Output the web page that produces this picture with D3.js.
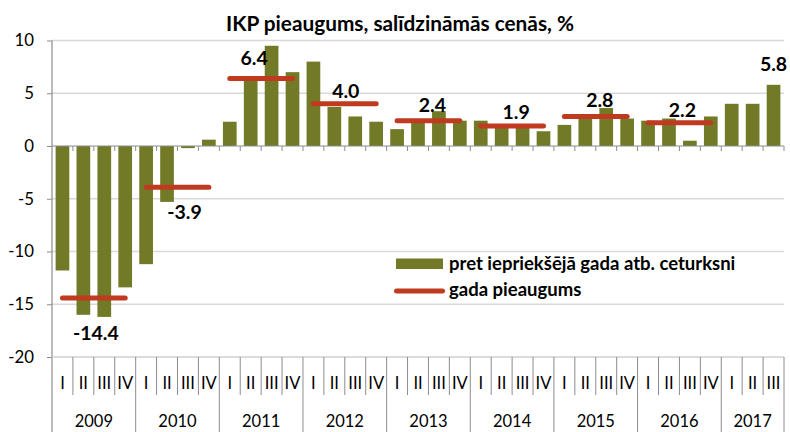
<!DOCTYPE html>
<html>
<head>
<meta charset="utf-8">
<script src="https://cdn.jsdelivr.net/npm/d3@7"></script>
<style>
  html, body { margin: 0; padding: 0; background: #fff; }
  svg { display: block; }
  text { font-family: Lato, "Open Sans", sans-serif; fill: #000; }
</style>
</head>
<body>
<svg id="chart" width="790" height="432"></svg>
<script>
// ---- data ----
const title = "IKP pieaugums, salīdzināmās cenās, %";
const years = [2009, 2010, 2011, 2012, 2013, 2014, 2015, 2016, 2017];
const quarterNames = ["I", "II", "III", "IV"];
const quarterlyGrowth = [
  -11.8, -16.0, -16.2, -13.4,
  -11.2, -5.3, -0.2, 0.6,
  2.3, 6.3, 9.5, 7.0,
  8.0, 3.7, 2.8, 2.3,
  1.6, 2.5, 3.3, 2.4,
  2.4, 1.8, 2.0, 1.4,
  2.0, 2.7, 3.6, 2.6,
  2.4, 2.6, 0.5, 2.8,
  4.0, 4.0, 5.8
];
const annualYears = [2009, 2010, 2011, 2012, 2013, 2014, 2015, 2016];
const annualGrowth = [-14.4, -3.9, 6.4, 4.0, 2.4, 1.9, 2.8, 2.2];
const yTicks = [-20, -15, -10, -5, 0, 5, 10];
const legendLabels = ["pret iepriekšējā gada atb. ceturksni", "gada pieaugums"];

// ---- layout (not data) ----
const labelNudge = [[2, 35], [7, 25], [-7, -21], [1, -13], [4, -16], [4, -14], [4, -16], [3, -13]];
const barColor = "#737a27";
const lineColor = "#bf3a1f";
const gridColor = "#d9d9d9";
const axisColor = "#8c8c8c";

const locale = d3.formatLocale({ decimal: ".", thousands: "", grouping: [3], currency: ["", ""], minus: "-" });
const fmtInt = locale.format("d");
const fmt1 = locale.format(".1f");

// categories
const categories = [];
years.forEach(yr => quarterNames.forEach(q => {
  if (categories.length < quarterlyGrowth.length) categories.push({ year: yr, q, key: yr + "-" + q });
}));
const data = categories.map((c, i) => ({ ...c, value: quarterlyGrowth[i], idx: i }));

const svg = d3.select("#chart");
const pLeft = 52, pRight = 784, pTop = 40.5, pBottom = 357;

const x = d3.scaleBand().domain(categories.map(c => c.key)).range([pLeft, pRight])
  .paddingInner(0.345).paddingOuter(0.1725);
const y = d3.scaleLinear().domain([-20, 10]).range([pBottom, pTop]);
const step = x.step();
const xCenter = k => x(k) + x.bandwidth() / 2;

// gridlines
svg.append("g").selectAll("line").data(yTicks.filter(t => t !== 0)).join("line")
  .attr("x1", pLeft).attr("x2", pRight)
  .attr("y1", d => y(d)).attr("y2", d => y(d))
  .attr("stroke", gridColor).attr("stroke-width", 1.5);

// y axis
const yAxis = d3.axisLeft(y).tickValues(yTicks).tickSize(5).tickPadding(13).tickFormat(fmtInt);
const yg = svg.append("g").attr("transform", `translate(${pLeft},0)`).call(yAxis);
yg.select(".domain").remove();
yg.selectAll(".tick line").attr("stroke", axisColor).attr("stroke-width", 1);
yg.selectAll(".tick text").attr("font-size", 16.8).attr("font-family", "Lato").attr("fill", "#000");
svg.append("line").attr("x1", pLeft).attr("x2", pLeft).attr("y1", pTop).attr("y2", 432)
  .attr("stroke", axisColor).attr("stroke-width", 1.2);

// bars
svg.append("g").selectAll("rect").data(data).join("rect")
  .attr("x", d => x(d.key))
  .attr("width", x.bandwidth())
  .attr("y", d => y(Math.max(0, d.value)))
  .attr("height", d => Math.abs(y(d.value) - y(0)))
  .attr("fill", barColor);

// zero axis with ticks
svg.append("line").attr("x1", pLeft).attr("x2", pRight).attr("y1", y(0)).attr("y2", y(0))
  .attr("stroke", axisColor).attr("stroke-width", 1.2);
const boundaries = d3.range(categories.length + 1).map(i => pLeft + i * step);
svg.append("g").selectAll("line").data(boundaries.slice(1)).join("line")
  .attr("x1", d => d).attr("x2", d => d)
  .attr("y1", y(0)).attr("y2", y(0) + 5)
  .attr("stroke", axisColor).attr("stroke-width", 1);

// bottom category axis
svg.append("line").attr("x1", pLeft).attr("x2", pRight).attr("y1", pBottom).attr("y2", pBottom)
  .attr("stroke", gridColor).attr("stroke-width", 1.5);
svg.append("g").selectAll("line").data(boundaries.map((b, i) => ({ b, i })).slice(1)).join("line")
  .attr("x1", d => d.b).attr("x2", d => d.b)
  .attr("y1", pBottom)
  .attr("y2", d => (d.i % 4 === 0 || d.i === categories.length) ? 432 : 395)
  .attr("stroke", axisColor).attr("stroke-width", 1);

svg.append("g").selectAll("text").data(data).join("text")
  .attr("x", d => pLeft + (d.idx + 0.5) * step)
  .attr("y", 383).attr("dy", "0.35em")
  .attr("text-anchor", "middle").attr("font-size", 16.5)
  .text(d => d.q);

svg.append("g").selectAll("text").data(years).join("text")
  .attr("x", (yr, i) => {
    const n = categories.filter(c => c.year === yr).length;
    return pLeft + (i * 4 + n / 2) * step;
  })
  .attr("y", 421).attr("dy", "0.35em")
  .attr("text-anchor", "middle").attr("font-size", 16.5)
  .text(d => d);

// annual lines
const annual = annualYears.map((yr, i) => ({ year: yr, value: annualGrowth[i], nudge: labelNudge[i] }));
svg.append("g").selectAll("line").data(annual).join("line")
  .attr("x1", d => xCenter(d.year + "-I"))
  .attr("x2", d => xCenter(d.year + "-IV"))
  .attr("y1", d => y(d.value)).attr("y2", d => y(d.value))
  .attr("stroke", lineColor).attr("stroke-width", 5).attr("stroke-linecap", "round");

svg.append("g").selectAll("text").data(annual).join("text")
  .attr("x", d => (xCenter(d.year + "-I") + xCenter(d.year + "-IV")) / 2 + d.nudge[0])
  .attr("y", d => y(d.value) + d.nudge[1]).attr("dy", "0.36em")
  .attr("text-anchor", "middle").attr("font-size", 19.5).attr("font-weight", "bold")
  .text(d => fmt1(d.value));

// last quarter label
const last = data[data.length - 1];
svg.append("text")
  .attr("x", xCenter(last.key)).attr("y", y(last.value) - 21).attr("dy", "0.36em")
  .attr("text-anchor", "middle").attr("font-size", 19.5).attr("font-weight", "bold")
  .text(fmt1(last.value));

// title
svg.append("text").attr("x", 400).attr("y", 31).attr("text-anchor", "middle")
  .attr("font-size", 20.8).attr("font-weight", "bold").text(title);

// legend
const lg = svg.append("g");
lg.append("rect").attr("x", 396).attr("y", 258.5).attr("width", 47).attr("height", 10.5).attr("fill", barColor);
lg.append("text").attr("x", 449).attr("y", 264).attr("dy", "0.35em")
  .attr("font-size", 18.5).attr("font-weight", "bold").text(legendLabels[0]);
lg.append("line").attr("x1", 396.5).attr("x2", 442.5).attr("y1", 291).attr("y2", 291)
  .attr("stroke", lineColor).attr("stroke-width", 5).attr("stroke-linecap", "round");
lg.append("text").attr("x", 449).attr("y", 290).attr("dy", "0.35em")
  .attr("font-size", 18.5).attr("font-weight", "bold").text(legendLabels[1]);
</script>
</body>
</html>
